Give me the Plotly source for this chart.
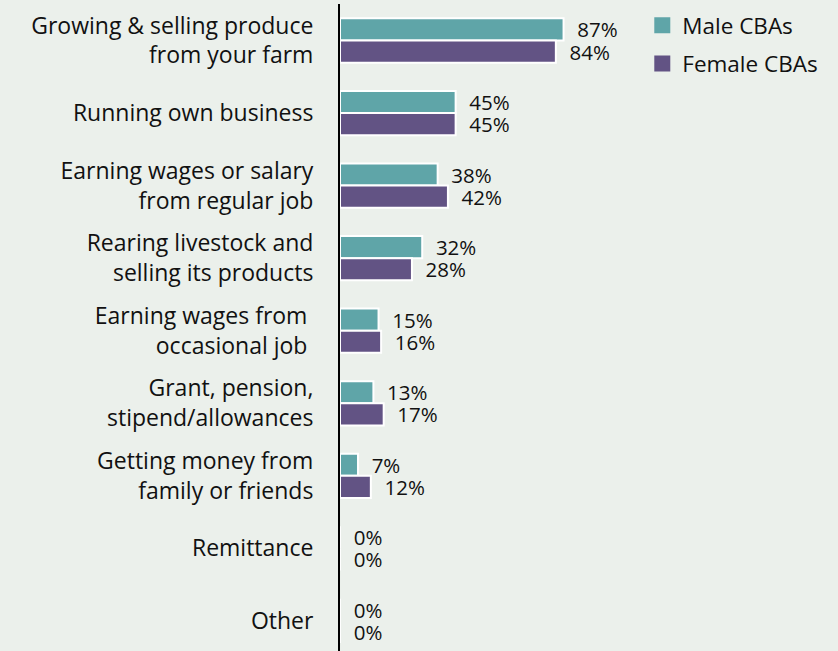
import plotly.graph_objects as go

# Income sources reported by community-based advocates (CBAs), % by gender
categories = [
    "Growing & selling produce<br>from your farm",
    "Running own business",
    "Earning wages or salary<br>from regular job",
    "Rearing livestock and<br>selling its products",
    "Earning wages from\u00a0<br>occasional job\u00a0",
    "Grant, pension,<br>stipend/allowances",
    "Getting money from<br>family or friends",
    "Remittance",
    "Other",
]
male_pct = [87, 45, 38, 32, 15, 13, 7, 0, 0]
female_pct = [84, 45, 42, 28, 16, 17, 12, 0, 0]

MALE_COLOR = "#5FA5A8"
FEMALE_COLOR = "#625384"
BG = "#EBF0EB"
FONT = "Open Sans, sans-serif"
PAD = "\u00a0\u00a0"

fig = go.Figure()
for name, vals, color in [("Male CBAs", male_pct, MALE_COLOR),
                          ("Female CBAs", female_pct, FEMALE_COLOR)]:
    fig.add_trace(go.Bar(
        y=categories, x=vals, orientation="h", name=name,
        marker=dict(color=color, line=dict(color="white", width=2)),
        text=[f"{PAD}{v}%" for v in vals], textposition="outside",
        constraintext="none", cliponaxis=False,
        textfont=dict(family=FONT, size=20.5, color="#111111"),
        showlegend=False,
    ))

# Legend entries with larger square swatches
for i, (name, color) in enumerate([("Male CBAs", MALE_COLOR),
                                   ("Female CBAs", FEMALE_COLOR)]):
    fig.add_trace(go.Scatter(
        x=[None], y=[None], mode="markers", name=name,
        marker=dict(symbol="square", size=16, color=color),
        legendgroup=f"g{i}", showlegend=True,
    ))

fig.update_layout(
    width=838, height=651,
    margin=dict(l=340, r=0, t=4, b=0),
    paper_bgcolor=BG, plot_bgcolor=BG,
    barmode="group", bargap=0.39, bargroupgap=0.0,
    font=dict(family=FONT, size=23, color="#111111"),
    legend=dict(x=0.607, y=1.0, xanchor="left", yanchor="top",
                bgcolor="rgba(0,0,0,0)", tracegroupgap=6,
                font=dict(family=FONT, size=22.5, color="#111111")),
    xaxis=dict(range=[0, 193.8], visible=False, showgrid=False, zeroline=False),
    yaxis=dict(range=[8.414, -0.503], showline=True, linecolor="black",
               linewidth=2, showgrid=False, zeroline=False, ticks="",
               ticklabelstandoff=20,
               tickfont=dict(family=FONT, size=23, color="#111111")),
)

fig.write_html("out.html")
